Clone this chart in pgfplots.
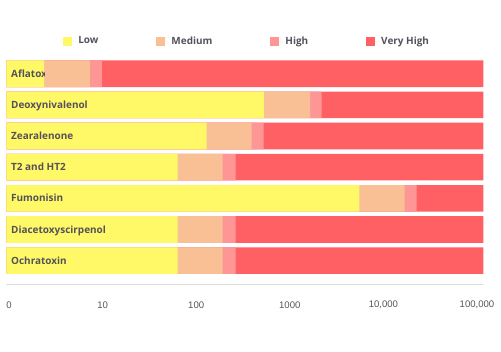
\documentclass[border=0pt]{standalone}
\usepackage{pgfplots}
\pgfplotsset{compat=1.18}
\usepackage{fontspec}
\setmainfont{Open Sans}
\newfontfamily\tickfont{Liberation Sans}
\definecolor{low}{RGB}{255,249,104}
\definecolor{med}{RGB}{248,192,148}
\definecolor{high}{RGB}{254,150,150}
\definecolor{vhigh}{RGB}{254,96,100}
\definecolor{txt}{RGB}{85,80,90}
\definecolor{tickc}{RGB}{85,85,85}
\definecolor{axisline}{RGB}{221,221,221}
\begin{document}
\begin{tikzpicture}[x=1bp,y=1bp]
\useasboundingbox (0,0) rectangle (501,351);
\begin{axis}[
  at={(6.3bp,66.5bp)}, anchor=south west,
  scale only axis, width=477bp, height=228.5bp,
  xmode=log, xmin=0.936, xmax=116800, log origin x=infty,
  ymin=-0.568, ymax=6.764, y dir=reverse,
  axis x line*=bottom, hide y axis,
  x axis line style={draw=axisline, line width=1bp},
  xtick={1,10,100,1000,10000,100000},
  xticklabels={0,10,100,1000,{10,000},{100,000}},
  minor xtick={}, major tick length=0pt, minor tick length=0pt,
  xticklabel style={font=\tickfont\fontsize{9.6}{9.6}\selectfont, text=tickc, anchor=center, yshift=-20.5bp},
  ytick=\empty,
  clip=false,
  legend columns=4,
  legend image code/.code={\fill[#1] (0bp,-4.5bp) rectangle (9bp,4.5bp); \path (0bp,0bp) -- (13bp,0bp);},
  legend style={at={(rel axis cs:0.505,1.0656)}, anchor=center, draw=none, fill=none,
    font=\bfseries\fontsize{10}{12}\selectfont, text=txt,
    /tikz/every even column/.append style={column sep=56bp}},
  legend cell align=left,
]
\addlegendimage{fill=low,draw=none}
\addlegendentry{Low}
\addlegendimage{fill=med,draw=none}
\addlegendentry{Medium}
\addlegendimage{fill=high,draw=none}
\addlegendentry{High}
\addlegendimage{fill=vhigh,draw=none}
\addlegendentry{Very High}

\addplot[xbar, bar shift=0pt, bar width=26.6bp, fill=vhigh, draw=none, forget plot]
  coordinates {(116800,0) (116800,1) (116800,2) (116800,3) (116800,4) (116800,5) (116800,6)};
\addplot[xbar, bar shift=0pt, bar width=26.6bp, fill=high, draw=none, forget plot]
  coordinates {(9.8,0) (2192,1) (526,2) (264,3) (22700,4) (264,5) (264,6)};
\addplot[xbar, bar shift=0pt, bar width=26.6bp, fill=med, draw=none, forget plot]
  coordinates {(7.3,0) (1644,1) (392,2) (192,3) (16900,4) (192,5) (192,6)};
\addplot[xbar, bar shift=0pt, bar width=26.6bp, fill=low, draw=none, forget plot]
  coordinates {(2.37,0) (530,1) (129,2) (63.4,3) (5530,4) (63.4,5) (63.4,6)};

\tikzset{lbl/.style={anchor=west, inner sep=0pt, text=txt, font=\bfseries\fontsize{10}{12}\selectfont, text height=7.1bp, text depth=0pt}}
\begin{scope}
\clip (axis cs:0.936,-0.5) rectangle (axis cs:2.37,0.5);
\node[lbl] at (axis cs:1.05,0) {Aflatoxin};
\end{scope}
\node[lbl] at (axis cs:1.05,1) {Deoxynivalenol};
\node[lbl] at (axis cs:1.05,2) {Zearalenone};
\node[lbl] at (axis cs:1.05,3) {T2 and HT2};
\node[lbl] at (axis cs:1.05,4) {Fumonisin};
\node[lbl] at (axis cs:1.05,5) {Diacetoxyscirpenol};
\node[lbl] at (axis cs:1.05,6) {Ochratoxin};
\end{axis}
\end{tikzpicture}
\end{document}
